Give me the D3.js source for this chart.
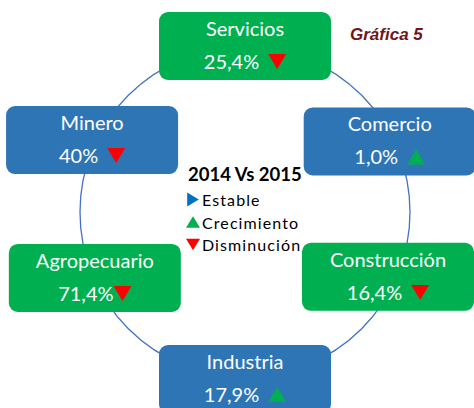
<!DOCTYPE html>
<html><head><meta charset="utf-8">
<script src="https://cdn.jsdelivr.net/npm/d3@7"></script>
<style>body{margin:0;background:#fff}svg{display:block}</style>
</head><body>
<svg id="chart" width="474" height="408"></svg>
<script>
// ---- data ----
const sectors = ["Servicios","Comercio","Construcción","Industria","Agropecuario","Minero"];
const values  = ["25,4%","1,0%","16,4%","17,9%","71,4%","40%"];
const trends  = ["down","up","down","up","down","down"];
const boxColors = ["green","blue","green","blue","green","blue"];
const legendTitle = "2014 Vs 2015";
const legendLabels = ["Estable","Crecimiento","Disminución"];
const legendTrends = ["flat","up","down"];
const chartTitle = "Gráfica 5";

// ---- layout ----
const W = 474, H = 408;
const cx = 245, cy = 212, R = 165;
const angles = [-90,-26,24.4,90,156.3,205.2];
const radii  = [166,161,157,167,164,169];
const gaps = [9,9,9,9,0,9];
const boxW = 172, boxH = 68;
const fill = {green:"#00B050", blue:"#2E75B6"};
const triFill = {up:"#00B050", down:"#FF0000", flat:"#0070C0"};
const font = "Lato, 'Open Sans', sans-serif";

const svg = d3.select("#chart");
const angle = d3.scaleLinear().domain([0,360]).range([0,2*Math.PI]);

svg.append("circle").attr("cx",cx).attr("cy",cy).attr("r",R)
  .attr("fill","none").attr("stroke","#4472C4").attr("stroke-width",1.3);

function triPath(kind, s){
  const w=s, h=s*0.83;
  if(kind==="up") return `M${-w/2},${h/2}L${w/2},${h/2}L0,${-h/2}Z`;
  if(kind==="down") return `M${-w/2},${-h/2}L${w/2},${-h/2}L0,${h/2}Z`;
  return `M${-h/2},${-w/2}L${h/2},0L${-h/2},${w/2}Z`;
}

const nodes = sectors.map((s,i)=>({
  name:s, value:values[i], trend:trends[i], color:boxColors[i], gap:gaps[i],
  x: cx + radii[i]*Math.cos(angle(angles[i])),
  y: cy + radii[i]*Math.sin(angle(angles[i]))
}));

const g = svg.selectAll("g.node").data(nodes).join("g").attr("class","node")
  .attr("transform",d=>`translate(${d.x},${d.y})`);
g.append("rect").attr("x",-boxW/2).attr("y",-boxH/2).attr("width",boxW).attr("height",boxH)
  .attr("rx",9).attr("fill",d=>fill[d.color]);
g.append("text").attr("text-anchor","middle").attr("y",-10)
  .attr("fill","#fff").attr("font-family",font).attr("font-size",20)
  .text(d=>d.name);
g.each(function(d){
  const gg = d3.select(this);
  const t = gg.append("text").attr("y",23).attr("fill","#fff")
    .attr("font-family",font).attr("font-size",20).text(d.value);
  const tw = t.node().getComputedTextLength();
  const triW = 18;
  const total = tw + d.gap + triW;
  const x0 = -total/2;
  t.attr("x",x0);
  gg.append("path").attr("d",triPath(d.trend,triW))
    .attr("transform",`translate(${x0+tw+d.gap+triW/2},${23-7.5})`)
    .attr("fill",triFill[d.trend]);
});

// legend
svg.append("text").attr("x",188).attr("y",181).attr("font-family",font)
  .attr("font-weight","bold").attr("font-size",18.5).attr("fill","#000").text(legendTitle);
const lg = svg.selectAll("g.leg").data(legendLabels).join("g").attr("class","leg")
  .attr("transform",(d,i)=>`translate(186,${206+i*22.5})`);
lg.append("path").attr("d",(d,i)=>triPath(legendTrends[i],14))
  .attr("transform","translate(7,-6.5)").attr("fill",(d,i)=>triFill[legendTrends[i]]);
lg.append("text").attr("x",16).attr("font-family",font).attr("font-size",16)
  .attr("letter-spacing",1.1).attr("fill","#000").text(d=>d);

// title
svg.append("text").attr("x",350).attr("y",40).attr("font-family","'Liberation Sans', Arial, sans-serif")
  .attr("font-weight","bold").attr("font-style","italic").attr("font-size",17)
  .attr("fill","#701519").text(chartTitle);
</script>
</body></html>
